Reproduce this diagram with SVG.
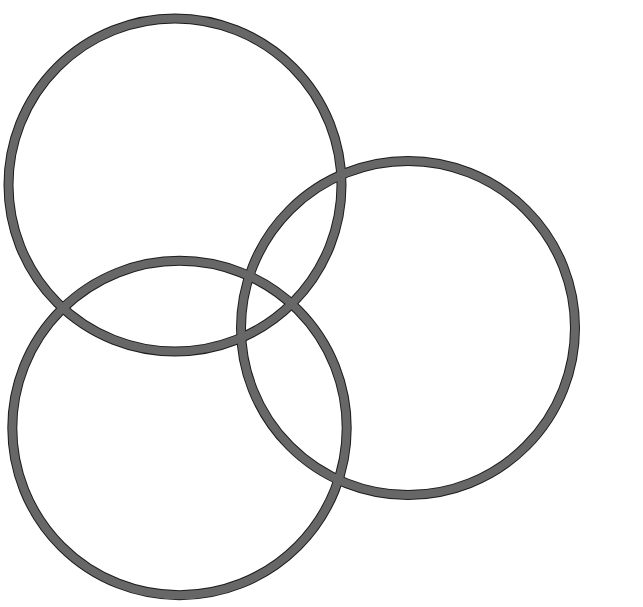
<svg xmlns="http://www.w3.org/2000/svg" width="643" height="607" viewBox="0 0 643 607">
  <style>
    .edge { fill: none; stroke: #1c1c1c; stroke-width: 10; }
    .band { fill: none; stroke: #676767; stroke-width: 8; }
  </style>
  <rect width="643" height="607" fill="#ffffff"/>
  <defs>
    <circle id="c1" cx="175" cy="185" r="166.5"/>
    <circle id="c2" cx="408" cy="328" r="167"/>
    <circle id="c3" cx="179.5" cy="428" r="167.2"/>
  </defs>
  <g id="outlines">
    <use href="#c1" class="edge"/>
    <use href="#c2" class="edge"/>
    <use href="#c3" class="edge"/>
  </g>
  <g id="circle-top-left">
    <use href="#c1" class="band"/>
  </g>
  <g id="circle-right">
    <use href="#c2" class="band"/>
  </g>
  <g id="circle-bottom-left">
    <use href="#c3" class="band"/>
  </g>
</svg>
